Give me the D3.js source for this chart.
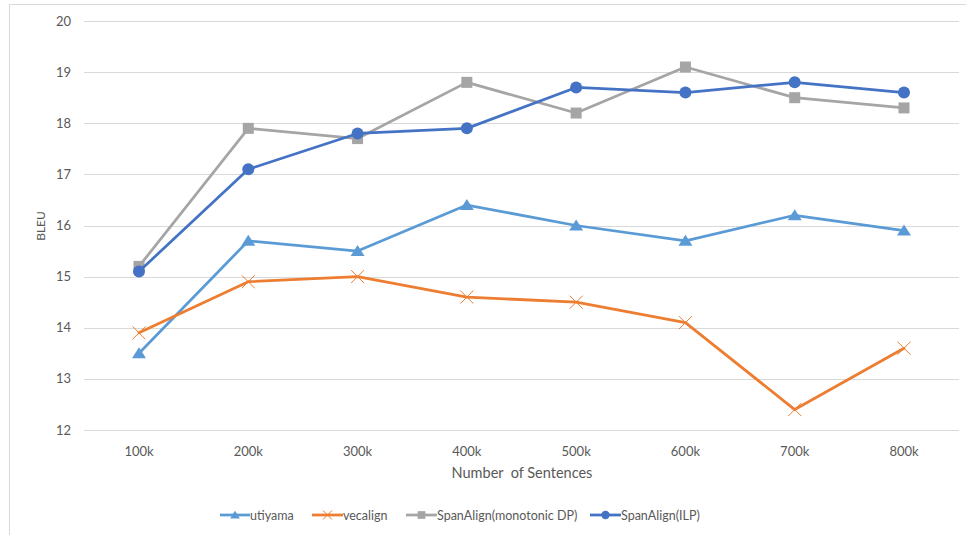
<!DOCTYPE html>
<html><head><meta charset="utf-8">
<script src="https://cdn.jsdelivr.net/npm/d3@7"></script>
<style>body{margin:0;background:#fff}svg{display:block}text{font-family:Lato,"Open Sans",sans-serif;fill:#595959}</style>
</head><body><svg id="c" width="966" height="535"></svg>
<script>
const categories = ["100k","200k","300k","400k","500k","600k","700k","800k"];
const yTicks = [12,13,14,15,16,17,18,19,20];
const seriesNames = ["utiyama","vecalign","SpanAlign(monotonic DP)","SpanAlign(ILP)"];
const utiyama = [13.5,15.7,15.5,16.4,16.0,15.7,16.2,15.9];
const vecalign = [13.9,14.9,15.0,14.6,14.5,14.1,12.4,13.6];
const monotonicDP = [15.2,17.9,17.7,18.8,18.2,19.1,18.5,18.3];
const ilp = [15.1,17.1,17.8,17.9,18.7,18.6,18.8,18.6];

const colors = ["#5B9BD5","#ED7D31","#A5A5A5","#4472C4"];
const markers = ["triangle","cross","square","circle"];
const allSeries = [utiyama, vecalign, monotonicDP, ilp];

const svg = d3.select("#c");
svg.append("rect").attr("x",9.5).attr("y",4.5).attr("width",970).attr("height",540)
  .attr("fill","none").attr("stroke","#d9d9d9");

const x = d3.scalePoint().domain(categories).range([139,904]);
const y = d3.scaleLinear().domain([12,20]).range([430,21]);

svg.append("g").selectAll("line").data(yTicks).join("line")
  .attr("x1",84).attr("x2",959).attr("y1",d=>Math.round(y(d))+0.5).attr("y2",d=>Math.round(y(d))+0.5)
  .attr("stroke","#d9d9d9").attr("stroke-width",1);

svg.append("g").selectAll("text").data(yTicks).join("text")
  .attr("x",71).attr("y",d=>y(d)+4.5).attr("text-anchor","end").attr("font-size",13).text(d=>d);
svg.append("g").selectAll("text").data(categories).join("text")
  .attr("x",d=>x(d)).attr("y",456).attr("text-anchor","middle").attr("font-size",13).text(d=>d);

svg.append("text").attr("x",522).attr("y",478).attr("text-anchor","middle").attr("font-size",14.5)
  .attr("xml:space","preserve").style("white-space","pre").text("Number  of Sentences");
svg.append("text").attr("transform","translate(45,226) rotate(-90)").attr("text-anchor","middle").attr("font-size",12).text("BLEU");

function drawMarker(g, type, color, cx, cy, scale){
  const s = scale||1;
  if(type==="triangle"){
    g.append("path").attr("d",`M${cx},${cy-6*s}L${cx+7*s},${cy+5*s}L${cx-7*s},${cy+5*s}Z`).attr("fill",color);
  } else if(type==="cross"){
    g.append("path").attr("d",`M${cx-6.5*s},${cy-6.5*s}L${cx+6.5*s},${cy+6.5*s}M${cx+6.5*s},${cy-6.5*s}L${cx-6.5*s},${cy+6.5*s}`)
      .attr("stroke",color).attr("stroke-width",1).attr("fill","none");
  } else if(type==="square"){
    g.append("rect").attr("x",cx-5.5*s).attr("y",cy-5.5*s).attr("width",11*s).attr("height",11*s).attr("fill",color);
  } else {
    g.append("circle").attr("cx",cx).attr("cy",cy).attr("r",6*s).attr("fill",color);
  }
}

const line = d3.line().x((d,i)=>x(categories[i])).y(d=>y(d));
allSeries.forEach((vals,k)=>{
  const g = svg.append("g");
  g.append("path").datum(vals).attr("d",line).attr("fill","none").attr("stroke",colors[k])
    .attr("stroke-width",2.75).attr("stroke-linejoin","round").attr("stroke-linecap","round");
  vals.forEach((v,i)=>drawMarker(g, markers[k], colors[k], x(categories[i]), y(v)));
});

const legendItems = [[220,250],[312,343],[406,437],[590,621]];
seriesNames.forEach((name,k)=>{
  const g = svg.append("g");
  const [lx,tx] = legendItems[k];
  g.append("line").attr("x1",lx).attr("x2",tx).attr("y1",515).attr("y2",515)
    .attr("stroke",colors[k]).attr("stroke-width",2.75);
  drawMarker(g, markers[k], colors[k], (lx+tx)/2, 515, 0.7);
  g.append("text").attr("x",tx).attr("y",519.5).attr("font-size",12.5).text(name);
});
</script></body></html>
